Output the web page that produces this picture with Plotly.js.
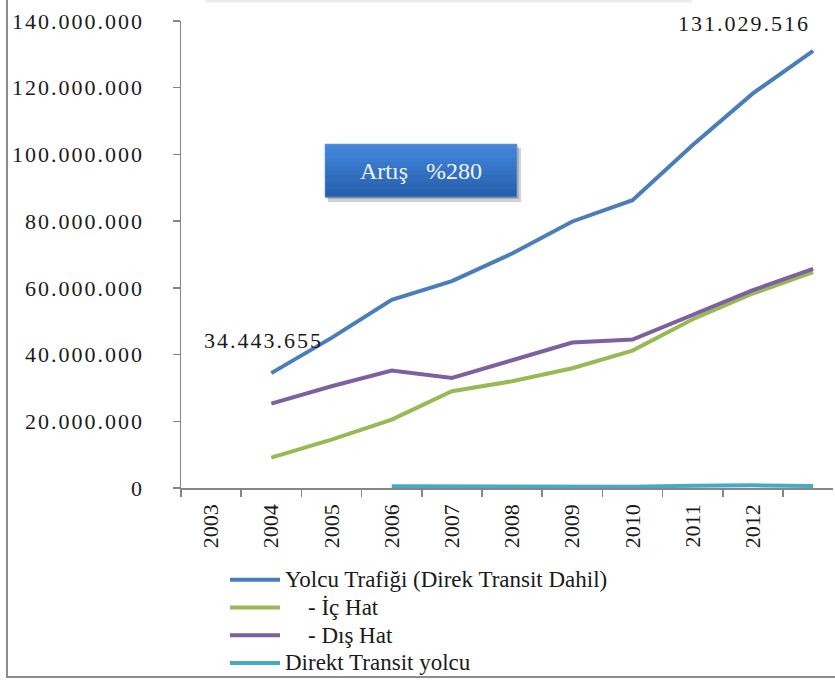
<!DOCTYPE html>
<html>
<head>
<meta charset="utf-8">
<script src="https://cdn.plot.ly/plotly-3.0.1.min.js"></script>
<style>
  html, body { margin: 0; padding: 0; background: #ffffff; }
  #chart { width: 835px; height: 684px; }
  .ytick text, .annotation-text.num { letter-spacing: 2px; }
  .legendtext { font-size: 23px !important; }
</style>
</head>
<body>
<div id="chart"></div>
<script>
// Category axis as drawn: labels 2003..2012 plus one unlabeled slot at the end
var categories = ['2003', '2004', '2005', '2006', '2007', '2008', '2009', '2010', '2011', '2012', ' '];
// The series are plotted starting at the second slot (as in the reference picture)
var seriesSlots = ['2004', '2005', '2006', '2007', '2008', '2009', '2010', '2011', '2012', ' '];

var yolcuTrafigi = [34443655, 45000000, 56400000, 62000000, 70300000, 79900000, 86300000, 102800000, 118300000, 131029516];
var icHat        = [9100000, 14500000, 20500000, 29000000, 32000000, 35900000, 41200000, 50600000, 58300000, 64700000];
var disHat       = [25300000, 30500000, 35200000, 33000000, 38300000, 43600000, 44500000, 51800000, 59300000, 65700000];
var direktTransit = [null, null, 500000, 500000, 300000, 300000, 400000, 700000, 800000, 600000];

var seriesNames = ['Yolcu Trafiği (Direk Transit Dahil)', '\u00a0\u00a0\u00a0\u00a0- İç Hat', '\u00a0\u00a0\u00a0\u00a0- Dış Hat', 'Direkt Transit yolcu'];
var seriesColors = ['#4a7ebb', '#98b954', '#7d60a0', '#46aac5'];
var yTicks = [0, 20000000, 40000000, 60000000, 80000000, 100000000, 120000000, 140000000];
var boxText = 'Artış\u00a0\u00a0\u00a0%280';

var FONT = '"Liberation Serif", "Times New Roman", Times, serif';
var W = 835, H = 684;
var M = { l: 181, r: 2, t: 21, b: 196, autoexpand: false };
var PW = W - M.l - M.r, PH = H - M.t - M.b;
function px(x) { return (x - M.l) / PW; }
function py(y) { return (M.t + PH - y) / PH; }

function fmt(v) {
  return String(v).replace(/\B(?=(\d{3})+(?!\d))/g, '.');
}

var allSeries = [yolcuTrafigi, icHat, disHat, direktTransit];
var traces = allSeries.map(function (vals, i) {
  return {
    type: 'scatter', mode: 'lines',
    x: seriesSlots, y: vals,
    name: seriesNames[i],
    line: { color: seriesColors[i], width: 4 },
    connectgaps: false,
    hoverinfo: 'skip'
  };
});

var shapes = [];
// frame (left and bottom), faint top shadow
shapes.push({ type: 'line', xref: 'paper', yref: 'paper', x0: px(7), x1: px(7), y0: py(0), y1: py(677), line: { color: '#8c8c8c', width: 2 } });
shapes.push({ type: 'line', xref: 'paper', yref: 'paper', x0: px(6), x1: px(835), y0: py(677), y1: py(677), line: { color: '#8c8c8c', width: 2 } });
shapes.push({ type: 'line', xref: 'paper', yref: 'paper', x0: px(205), x1: px(692), y0: py(1), y1: py(1), line: { color: '#ececec', width: 3 } });

// "Artış %280" box with shadow and vertical gradient
var bx0 = 325, bx1 = 517, by0 = 144, by1 = 197;
shapes.push({ type: 'rect', xref: 'paper', yref: 'paper', x0: px(bx0 + 3), x1: px(bx1 + 4), y0: py(by0 + 4), y1: py(by1 + 5), line: { width: 0 }, fillcolor: 'rgba(0,0,0,0.18)' });
shapes.push({ type: 'rect', xref: 'paper', yref: 'paper', x0: px(bx0 + 1), x1: px(bx1 + 2), y0: py(by0 + 2), y1: py(by1 + 2), line: { width: 0 }, fillcolor: 'rgba(0,0,0,0.15)' });
var nStripes = 12;
var cTop = [66, 135, 222], cBot = [38, 94, 172];
for (var s = 0; s < nStripes; s++) {
  var t = s / (nStripes - 1);
  var c = cTop.map(function (a, k) { return Math.round(a + (cBot[k] - a) * t); });
  var ya = by0 + (by1 - by0) * s / nStripes;
  var yb = by0 + (by1 - by0) * (s + 1) / nStripes;
  shapes.push({ type: 'rect', xref: 'paper', yref: 'paper', x0: px(bx0), x1: px(bx1), y0: py(ya), y1: py(yb + 0.5), line: { width: 0 }, fillcolor: 'rgb(' + c.join(',') + ')' });
}
shapes.push({ type: 'rect', xref: 'paper', yref: 'paper', x0: px(bx0), x1: px(bx1), y0: py(by0), y1: py(by1), line: { color: 'rgba(120,160,220,0.6)', width: 1 }, fillcolor: 'rgba(0,0,0,0)' });

var firstIdx = categories.indexOf(seriesSlots[0]);
var lastIdx = categories.indexOf(seriesSlots[seriesSlots.length - 1]);
var annotations = [
  { x: firstIdx, y: yolcuTrafigi[0], xref: 'x', yref: 'y', text: fmt(yolcuTrafigi[0]), showarrow: false, xanchor: 'center', yanchor: 'middle', xshift: -8, yshift: 33, font: { family: FONT, size: 22, color: '#1a1a1a' } },
  { x: lastIdx, y: yolcuTrafigi[yolcuTrafigi.length - 1], xref: 'x', yref: 'y', text: fmt(yolcuTrafigi[yolcuTrafigi.length - 1]), showarrow: false, xanchor: 'center', yanchor: 'middle', xshift: -69, yshift: 27, font: { family: FONT, size: 22, color: '#1a1a1a' } },
  { x: px((bx0 + bx1) / 2), y: py((by0 + by1) / 2), xref: 'paper', yref: 'paper', text: boxText, showarrow: false, xanchor: 'center', yanchor: 'middle', font: { family: FONT, size: 24, color: '#eef3fb' } }
];

var layout = {
  width: W, height: H,
  margin: M,
  paper_bgcolor: '#ffffff', plot_bgcolor: '#ffffff',
  separators: ',.',
  font: { family: FONT, size: 22, color: '#1a1a1a' },
  showlegend: true,
  legend: {
    x: px(225), y: py(561), xanchor: 'left', yanchor: 'top',
    orientation: 'v', bgcolor: 'rgba(0,0,0,0)', borderwidth: 0,
    font: { family: FONT, size: 19, color: '#1a1a1a' },
    tracegroupgap: 0, itemwidth: 50
  },
  xaxis: {
    type: 'category', categoryorder: 'array', categoryarray: categories,
    range: [-0.5, 10.33], tickson: 'boundaries',
    showgrid: false, zeroline: false,
    showline: true, linecolor: '#868686', linewidth: 1.5,
    ticks: 'outside', ticklen: 7, tickcolor: '#868686', tickwidth: 1.5,
    ticklabelstandoff: 6,
    tickangle: -90, tickfont: { family: FONT, size: 22, color: '#1a1a1a' },
    fixedrange: true
  },
  yaxis: {
    range: [0, 140000000], tickvals: yTicks, tickformat: ',d',
    showgrid: false, zeroline: false,
    showline: true, linecolor: '#868686', linewidth: 1.5,
    ticks: 'outside', ticklen: 7, tickcolor: '#868686', tickwidth: 1.5,
    ticklabelstandoff: 24,
    tickfont: { family: FONT, size: 22, color: '#1a1a1a' },
    fixedrange: true
  },
  shapes: shapes,
  annotations: annotations
};

Plotly.newPlot('chart', traces, layout, { staticPlot: true, displayModeBar: false }).then(function () {
  var ann = document.querySelectorAll('.annotation-text');
  for (var i = 0; i < 2 && i < ann.length; i++) ann[i].classList.add('num');
});
</script>
</body>
</html>
